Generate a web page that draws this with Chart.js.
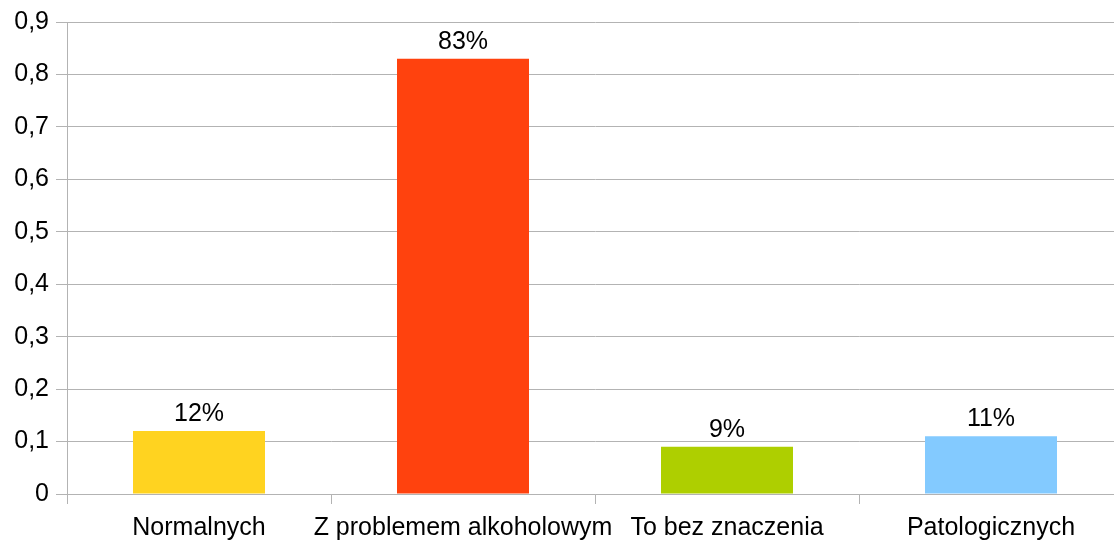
<!DOCTYPE html>
<html>
<head>
<meta charset="utf-8">
<script src="https://cdn.jsdelivr.net/npm/chart.js@4"></script>
<style>
html,body{margin:0;padding:0;background:#fff;overflow:hidden;}
#wrap{width:1124px;height:542px;position:relative;}
</style>
</head>
<body>
<div id="wrap"><canvas id="c"></canvas></div>
<script>
const categories = ["Normalnych", "Z problemem alkoholowym", "To bez znaczenia", "Patologicznych"];
const values = [0.12, 0.83, 0.09, 0.11];
const valueLabels = ["12%", "83%", "9%", "11%"];
const barColors = ["#FFD320", "#FF420E", "#AECF00", "#83CAFF"];

const FONT = "'Liberation Sans', Arial, sans-serif";

const labelPlugin = {
  id: 'valueLabels',
  afterDatasetsDraw(chart) {
    const ctx = chart.ctx;
    const meta = chart.getDatasetMeta(0);
    ctx.save();
    ctx.font = "25px " + FONT;
    ctx.fillStyle = "#000";
    ctx.textAlign = "center";
    ctx.textBaseline = "alphabetic";
    meta.data.forEach((bar, i) => {
      ctx.fillText(valueLabels[i], bar.x, bar.y - 10);
    });
    ctx.restore();
  }
};

new Chart(document.getElementById('c'), {
  type: 'bar',
  data: {
    labels: categories,
    datasets: [{
      data: values,
      backgroundColor: barColors,
      borderWidth: 0,
      barPercentage: 0.5,
      categoryPercentage: 1.0
    }]
  },
  options: {
    responsive: true,
    maintainAspectRatio: false,
    animation: false,
    devicePixelRatio: 1,
    layout: { padding: { top: 22, right: 1, left: 0, bottom: 0 } },
    plugins: { legend: { display: false }, tooltip: { enabled: false } },
    scales: {
      x: {
        offset: true,
        grid: { offset: true, drawOnChartArea: false, drawTicks: true, tickLength: 10, color: "#b3b3b3" },
        border: { display: true, color: "#b3b3b3" },
        ticks: { autoSkip: false, maxRotation: 0, minRotation: 0, padding: 9, color: "#000", font: { family: FONT, size: 25 } },
        afterFit(scale) { scale.height = 48; }
      },
      y: {
        min: 0, max: 0.9,
        grid: { color: "#b3b3b3", tickLength: 11 },
        border: { display: true, color: "#b3b3b3" },
        ticks: {
          stepSize: 0.1, padding: 7, color: "#000",
          font: { family: FONT, size: 25 },
          callback: (v) => (Math.abs(v) < 1e-9 ? "0" : v.toFixed(1).replace('.', ','))
        },
        afterFit(scale) { scale.width = 67; }
      }
    }
  },
  plugins: [labelPlugin]
});
</script>
</body>
</html>
